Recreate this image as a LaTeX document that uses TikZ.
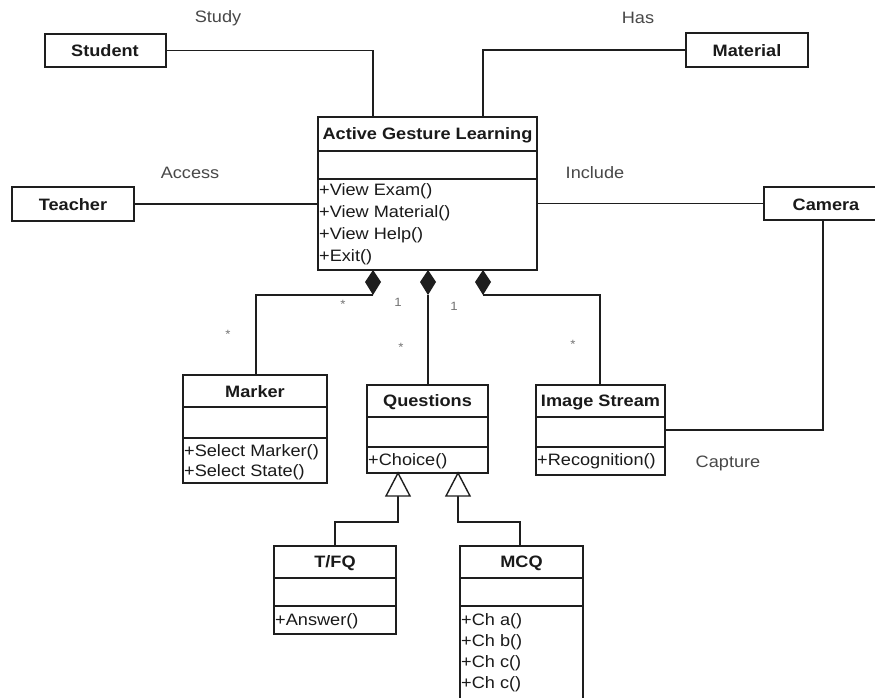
\documentclass[tikz,border=0pt]{standalone}
\usepackage{fontspec}
\setmainfont{Liberation Sans}[FakeStretch=1.1]
\definecolor{linec}{HTML}{1E1E1E}
\definecolor{txtc}{HTML}{1A1A1A}
\begin{document}
\begin{tikzpicture}[x=1pt,y=-1pt,
  box/.style={draw=linec, line width=1.4pt, inner sep=0pt, outer sep=0pt, anchor=north west, fill=white},
  cname/.style={font=\bfseries\fontsize{16.5}{19}\selectfont, text=txtc, inner sep=0pt},
  meth/.style={font=\fontsize{16.5}{19}\selectfont, text=txtc, anchor=west, inner sep=0pt},
  lab/.style={font=\fontsize{16.5}{19}\selectfont, text=txtc!80, inner sep=0pt},
  mult/.style={font=\fontsize{12}{13}\selectfont, text=black!55, inner sep=0pt},
  conn/.style={draw=linec, line width=1.4pt},
  comp/.style={draw=linec, line width=1.4pt}]
\useasboundingbox (0,0) rectangle (875,698);
\fill[white] (0,0) rectangle (875,698);
\clip (0,0) rectangle (875,698);

% ---- simple boxes
\node[box, minimum width=121pt, minimum height=33pt] (student) at (45,34) {};
\node[cname] at (105,51) {Student};
\node[box, minimum width=122pt, minimum height=34pt] (material) at (686,33) {};
\node[cname] at (747,51) {Material};
\node[box, minimum width=122pt, minimum height=34pt] (teacher) at (12,187) {};
\node[cname] at (73,205) {Teacher};
\node[box, minimum width=124pt, minimum height=33pt] (camera) at (764,187) {};
\node[cname] at (826,205) {Camera};

% ---- Active Gesture Learning
\node[box, minimum width=219pt, minimum height=153pt] (agl) at (318,117) {};
\draw[comp] (318,151) -- (537,151);
\draw[comp] (318,179) -- (537,179);
\node[cname] at (427.5,135) {Active Gesture Learning};
\node[meth] at (319,191) {+View Exam()};
\node[meth] at (319,213) {+View Material()};
\node[meth] at (319,235) {+View Help()};
\node[meth] at (319,257) {+Exit()};

% ---- Marker
\node[box, minimum width=144pt, minimum height=108pt] (marker) at (183,375) {};
\draw[comp] (183,407) -- (327,407);
\draw[comp] (183,438) -- (327,438);
\node[cname] at (255,392) {Marker};
\node[meth] at (184,452) {+Select Marker()};
\node[meth] at (184,472) {+Select State()};

% ---- Questions
\node[box, minimum width=121pt, minimum height=88pt] (questions) at (367,385) {};
\draw[comp] (367,417) -- (488,417);
\draw[comp] (367,447) -- (488,447);
\node[cname] at (427.5,402) {Questions};
\node[meth] at (368,461) {+Choice()};

% ---- Image Stream
\node[box, minimum width=129pt, minimum height=90pt] (imgs) at (536,385) {};
\draw[comp] (536,417) -- (665,417);
\draw[comp] (536,447) -- (665,447);
\node[cname] at (600.5,402) {Image Stream};
\node[meth] at (537,461) {+Recognition()};

% ---- T/FQ
\node[box, minimum width=122pt, minimum height=88pt] (tfq) at (274,546) {};
\draw[comp] (274,578) -- (396,578);
\draw[comp] (274,606) -- (396,606);
\node[cname] at (335,563) {T/FQ};
\node[meth] at (275,621) {+Answer()};

% ---- MCQ
\node[box, minimum width=123pt, minimum height=160pt] (mcq) at (460,546) {};
\draw[comp] (460,578) -- (583,578);
\draw[comp] (460,606) -- (583,606);
\node[cname] at (521.5,563) {MCQ};
\node[meth] at (461,621) {+Ch a()};
\node[meth] at (461,642) {+Ch b()};
\node[meth] at (461,663) {+Ch c()};
\node[meth] at (461,684) {+Ch c()};

% ---- associations
\draw[conn] (student.east) -| (373,0 |- agl.north);
\draw[conn] (material.west) -| (483,0 |- agl.north);
\draw[conn] (teacher.east) -- (agl.west |- teacher.east);
\draw[conn] (agl.east |- camera.west) -- (camera.west);
\draw[conn] (823,0 |- camera.south) |- (imgs.east);

% ---- compositions
\foreach \n/\x in {1/373,2/428,3/483}{
  \coordinate (dt\n) at (\x,270);
  \coordinate (db\n) at (\x,295);
  \fill[linec] (dt\n) -- ++(8,12) -- (db\n) -- ++(-8,-13) -- cycle;
}
\draw[conn] (db1) -| (256,0 |- marker.north);
\draw[conn] (db2) -- (db2 |- questions.north);
\draw[conn] (db3) -| (600,0 |- imgs.north);

% ---- generalizations
\coordinate (ta1) at (398,473);
\coordinate (tb1) at (398,496);
\coordinate (ta2) at (458,473);
\coordinate (tb2) at (458,496);
\draw[conn] (tb1) -- ++(0,26) -| (335,0 |- tfq.north);
\draw[conn] (tb2) -- ++(0,26) -| (520,0 |- mcq.north);
\draw[conn, fill=white] (ta1) -- ++(12,23) -- ++(-24,0) -- cycle;
\draw[conn, fill=white] (ta2) -- ++(12,23) -- ++(-24,0) -- cycle;

% ---- labels
\node[lab] at (218,18) {Study};
\node[lab] at (638,18) {Has};
\node[lab] at (190,173) {Access};
\node[lab] at (595,173) {Include};
\node[lab] at (728,463) {Capture};

% ---- multiplicities
\node[mult] at (343,304) {*};
\node[mult] at (398,302) {1};
\node[mult] at (454,306) {1};
\node[mult] at (228,334) {*};
\node[mult] at (401,347) {*};
\node[mult] at (573,344) {*};
\end{tikzpicture}
\end{document}
